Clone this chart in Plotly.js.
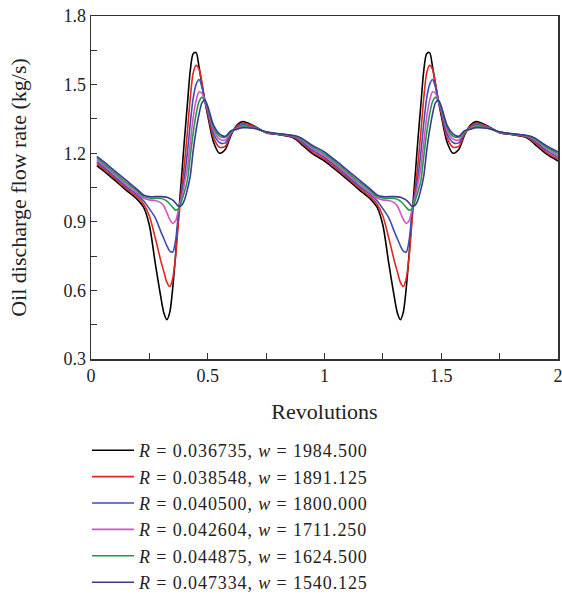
<!DOCTYPE html>
<html>
<head>
<meta charset="utf-8">
<script src="https://cdn.plot.ly/plotly-3.0.1.min.js"></script>
<style>
html,body{margin:0;padding:0;background:#fff;}
#chart{width:562px;height:597px;}
.legendtext{letter-spacing:0.9px;}
</style>
</head>
<body>
<div id="chart"></div>
<script>
// Revolutions (x values)
const revolutions = [
  0.025, 0.05, 0.1, 0.15, 0.2, 0.225, 0.25, 0.275, 0.3, 0.3125, 0.325, 0.3375, 0.35, 0.3625, 0.375, 0.3875, 0.4, 0.4125, 0.425, 0.4375, 0.45, 0.4625, 0.475, 0.4875, 0.5, 0.525, 0.55, 0.575, 0.6, 0.625, 0.65, 0.7, 0.75, 0.8, 0.85, 0.875, 0.9, 0.95, 1.0,
  1.025, 1.05, 1.1, 1.15, 1.2, 1.225, 1.25, 1.275, 1.3, 1.3125, 1.325, 1.3375, 1.35, 1.3625, 1.375, 1.3875, 1.4, 1.4125, 1.425, 1.4375, 1.45, 1.4625, 1.475, 1.4875, 1.5, 1.525, 1.55, 1.575, 1.6, 1.625, 1.65, 1.7, 1.75, 1.8, 1.85, 1.875, 1.9, 1.95, 2.0
];

// Oil discharge flow rate (kg/s) for each case
const flowBlack = [
  1.146, 1.126, 1.083, 1.039, 0.996, 0.964, 0.885, 0.72, 0.565, 0.50, 0.472, 0.505, 0.61, 0.76, 0.93, 1.09, 1.258, 1.41, 1.56, 1.635, 1.64, 1.578, 1.50, 1.43, 1.365, 1.248, 1.20, 1.216, 1.28, 1.323, 1.338, 1.318, 1.29, 1.282, 1.273, 1.262, 1.24, 1.197, 1.166,
  1.146, 1.126, 1.083, 1.039, 0.996, 0.964, 0.885, 0.72, 0.565, 0.50, 0.472, 0.505, 0.61, 0.76, 0.93, 1.09, 1.258, 1.41, 1.56, 1.635, 1.64, 1.578, 1.50, 1.43, 1.365, 1.248, 1.20, 1.216, 1.28, 1.323, 1.338, 1.318, 1.29, 1.282, 1.273, 1.262, 1.24, 1.197, 1.166
];
const flowRed = [
  1.154, 1.134, 1.091, 1.047, 1.006, 0.978, 0.925, 0.83, 0.725, 0.68, 0.635, 0.617, 0.652, 0.75, 0.905, 1.04, 1.15, 1.29, 1.44, 1.55, 1.584, 1.568, 1.51, 1.432, 1.375, 1.268, 1.226, 1.23, 1.285, 1.318, 1.332, 1.316, 1.29, 1.283, 1.275, 1.266, 1.247, 1.204, 1.174,
  1.154, 1.134, 1.091, 1.047, 1.006, 0.978, 0.925, 0.83, 0.725, 0.68, 0.635, 0.617, 0.652, 0.75, 0.905, 1.04, 1.15, 1.29, 1.44, 1.55, 1.584, 1.568, 1.51, 1.432, 1.375, 1.268, 1.226, 1.23, 1.285, 1.318, 1.332, 1.316, 1.29, 1.283, 1.275, 1.266, 1.247, 1.204, 1.174
];
const flowBlue = [
  1.162, 1.142, 1.099, 1.055, 1.016, 0.992, 0.957, 0.918, 0.855, 0.825, 0.795, 0.772, 0.768, 0.82, 0.94, 1.02, 1.095, 1.20, 1.33, 1.44, 1.50, 1.522, 1.49, 1.428, 1.385, 1.285, 1.247, 1.245, 1.29, 1.312, 1.325, 1.313, 1.291, 1.283, 1.277, 1.27, 1.254, 1.212, 1.182,
  1.162, 1.142, 1.099, 1.055, 1.016, 0.992, 0.957, 0.918, 0.855, 0.825, 0.795, 0.772, 0.768, 0.82, 0.94, 1.02, 1.095, 1.20, 1.33, 1.44, 1.50, 1.522, 1.49, 1.428, 1.385, 1.285, 1.247, 1.245, 1.29, 1.312, 1.325, 1.313, 1.291, 1.283, 1.277, 1.27, 1.254, 1.212, 1.182
];
const flowMagenta = [
  1.170, 1.150, 1.107, 1.063, 1.024, 1.003, 0.996, 0.993, 0.983, 0.968, 0.94, 0.91, 0.893, 0.905, 0.955, 1.005, 1.065, 1.135, 1.245, 1.356, 1.43, 1.468, 1.462, 1.427, 1.393, 1.30, 1.262, 1.258, 1.293, 1.308, 1.32, 1.311, 1.292, 1.284, 1.278, 1.272, 1.259, 1.22, 1.19,
  1.170, 1.150, 1.107, 1.063, 1.024, 1.003, 0.996, 0.993, 0.983, 0.968, 0.94, 0.91, 0.893, 0.905, 0.955, 1.005, 1.065, 1.135, 1.245, 1.356, 1.43, 1.468, 1.462, 1.427, 1.393, 1.30, 1.262, 1.258, 1.293, 1.308, 1.32, 1.311, 1.292, 1.284, 1.278, 1.272, 1.259, 1.22, 1.19
];
const flowGreen = [
  1.178, 1.158, 1.115, 1.072, 1.032, 1.010, 1.004, 1.003, 1.002, 0.998, 0.99, 0.978, 0.963, 0.951, 0.958, 0.99, 1.03, 1.08, 1.185, 1.288, 1.37, 1.425, 1.444, 1.43, 1.40, 1.312, 1.275, 1.27, 1.297, 1.305, 1.316, 1.309, 1.293, 1.285, 1.279, 1.274, 1.263, 1.227, 1.198,
  1.178, 1.158, 1.115, 1.072, 1.032, 1.010, 1.004, 1.003, 1.002, 0.998, 0.99, 0.978, 0.963, 0.951, 0.958, 0.99, 1.03, 1.08, 1.185, 1.288, 1.37, 1.425, 1.444, 1.43, 1.40, 1.312, 1.275, 1.27, 1.297, 1.305, 1.316, 1.309, 1.293, 1.285, 1.279, 1.274, 1.263, 1.227, 1.198
];
const flowNavy = [
  1.186, 1.166, 1.124, 1.082, 1.04, 1.017, 1.010, 1.010, 1.010, 1.009, 1.007, 1.002, 0.995, 0.982, 0.968, 0.972, 0.995, 1.04, 1.10, 1.21, 1.30, 1.37, 1.42, 1.432, 1.405, 1.322, 1.285, 1.274, 1.298, 1.305, 1.311, 1.308, 1.294, 1.286, 1.280, 1.276, 1.267, 1.233, 1.206,
  1.186, 1.166, 1.124, 1.082, 1.04, 1.017, 1.010, 1.010, 1.010, 1.009, 1.007, 1.002, 0.995, 0.982, 0.968, 0.972, 0.995, 1.04, 1.10, 1.21, 1.30, 1.37, 1.42, 1.432, 1.405, 1.322, 1.285, 1.274, 1.298, 1.305, 1.311, 1.308, 1.294, 1.286, 1.280, 1.276, 1.267, 1.233, 1.206
];

const seriesNames = [
  "<i>R</i> = 0.036735, <i>w</i> = 1984.500",
  "<i>R</i> = 0.038548, <i>w</i> = 1891.125",
  "<i>R</i> = 0.040500, <i>w</i> = 1800.000",
  "<i>R</i> = 0.042604, <i>w</i> = 1711.250",
  "<i>R</i> = 0.044875, <i>w</i> = 1624.500",
  "<i>R</i> = 0.047334, <i>w</i> = 1540.125"
];
const seriesValues = [flowBlack, flowRed, flowBlue, flowMagenta, flowGreen, flowNavy];
const seriesColors = ["#000000", "#e3261f", "#3c4fb5", "#d452c4", "#1f9a4a", "#3a3a8c"];

const FONT = '"Liberation Serif", "Times New Roman", serif';

const traces = seriesValues.map((vals, i) => ({
  type: "scatter",
  mode: "lines",
  x: revolutions,
  y: vals,
  name: seriesNames[i],
  line: {color: seriesColors[i], width: 1.6, shape: "spline", smoothing: 0.8}
}));

const axisCommon = {
  showgrid: false,
  zeroline: false,
  showline: true,
  linecolor: "#333",
  linewidth: 1.5,
  mirror: true,
  ticks: "inside",
  ticklen: 6,
  tickwidth: 1,
  tickcolor: "#333",
  ticklabeloverflow: "allow",
  tickfont: {family: FONT, size: 18, color: "#222"}
};

const layout = {
  width: 562,
  height: 597,
  paper_bgcolor: "#ffffff",
  plot_bgcolor: "#ffffff",
  margin: {l: 91, r: 4, t: 16, b: 238, autoexpand: false},
  font: {family: FONT, size: 18, color: "#222"},
  xaxis: Object.assign({}, axisCommon, {
    range: [0, 2],
    tick0: 0,
    dtick: 0.5,
    minor: {ticks: "inside", ticklen: 6, tickcolor: "#333", dtick: 0.25, tick0: 0},
    title: {text: "Revolutions", font: {family: FONT, size: 22, color: "#222"}, standoff: 18}
  }),
  yaxis: Object.assign({}, axisCommon, {
    range: [0.3, 1.8],
    tick0: 0.3,
    dtick: 0.3,
    minor: {ticks: "inside", ticklen: 6, tickcolor: "#333", dtick: 0.15, tick0: 0.3},
    title: {text: "Oil discharge flow rate (kg/s)", font: {family: FONT, size: 22, color: "#222"}, standoff: 30}
  }),
  showlegend: true,
  legend: {
    orientation: "v",
    x: -0.0085,
    xanchor: "left",
    y: -0.2128,
    yanchor: "top",
    itemwidth: 42,
    bgcolor: "rgba(0,0,0,0)",
    font: {family: FONT, size: 18, color: "#222"}
  }
};

Plotly.newPlot("chart", traces, layout, {displayModeBar: false, staticPlot: true});
</script>
</body>
</html>
